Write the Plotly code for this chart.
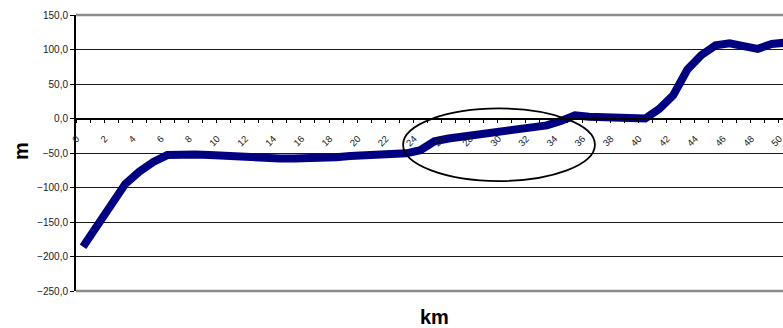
import plotly.graph_objects as go

# Elevation profile along the route (km -> metres)
km = list(range(0, 51))
elevation = [
    -186, -155, -124, -95, -77, -63, -53, -52, -52, -53,
    -54, -56, -58, -58, -58, -58, -58, -56, -56, -54.5,
    -53.5, -52, -51, -50.5, -46, -33, -29, -26, -23.5, -21,
    -18.5, -16, -13, -10, -3.5, 4.5, 2.5, 1.5, 2.5, -0.5,
    0, 14, 34, 71, 92, 106, 109, 105, 101, 108,
    110,
]

x_labels = [str(k) for k in range(0, 51, 2)]
x_label_pos = list(range(0, 51, 2))
y_ticks = [-250, -200, -150, -100, -50, 0, 50, 100, 150]

# Highlighted stretch of the profile
highlight_x = (22.77, 36.42)
highlight_y = (-90.6, 14.5)

Y_RANGE = [-250, 150]
X_RANGE = [-0.5, 49.8]
axis_pos = (0 - Y_RANGE[0]) / (Y_RANGE[1] - Y_RANGE[0])
LABEL_OFFSET = 0.45  # rotated labels sit just left of their category

fig = go.Figure()
fig.add_trace(go.Scatter(
    x=km, y=elevation, mode="lines",
    line=dict(color="#000080", width=8),
    xaxis="x", yaxis="y", showlegend=False, hoverinfo="x+y",
))

font = "Arial, 'Liberation Sans', sans-serif"

fig.update_layout(
    width=783, height=328,
    margin=dict(l=76, r=0, t=15, b=37),
    paper_bgcolor="white", plot_bgcolor="white",
    separators=",.",
    font=dict(family=font, color="#1a1a1a"),
    yaxis=dict(
        range=Y_RANGE, tickvals=y_ticks, tickformat=".1f",
        showgrid=True, gridcolor="#1a1a1a", gridwidth=1,
        zeroline=False, showline=True, linecolor="black", linewidth=2,
        ticks="outside", ticklen=4, tickcolor="black",
        tickfont=dict(size=10, family=font, color="#1a1a1a"),
        domain=[0, 1], fixedrange=True,
    ),
    # axis line crossing at y = 0 with boundary ticks
    xaxis=dict(
        range=X_RANGE, anchor="free", position=axis_pos,
        tickvals=[k - 0.5 for k in range(0, 52)],
        showticklabels=False, ticks="outside", ticklen=4, tickcolor="black",
        showgrid=False, zeroline=False,
        showline=True, linecolor="black", linewidth=1.5,
        fixedrange=True,
    ),
    # rotated category labels
    xaxis2=dict(
        range=X_RANGE, overlaying="x", anchor="free", position=axis_pos,
        side="bottom",
        tickvals=[p - LABEL_OFFSET for p in x_label_pos], ticktext=x_labels,
        ticks="", tickangle=-45, showgrid=False, zeroline=False, showline=False,
        tickfont=dict(size=9.5, family=font, color="#1a1a1a"),
        ticklabelstandoff=12, ticklabeloverflow="allow",
        fixedrange=True,
    ),
)

# dummy trace so the label axis is drawn
fig.add_trace(go.Scatter(x=[None], y=[None], xaxis="x2", yaxis="y",
                         showlegend=False, hoverinfo="skip"))

# plot-area frame lines at top and bottom
for yy in (0, 1):
    fig.add_shape(type="line", xref="paper", yref="paper",
                  x0=0, x1=1, y0=yy, y1=yy,
                  line=dict(color="#8c8c8c", width=2.5))

fig.add_shape(type="circle", xref="x", yref="y",
              x0=highlight_x[0], x1=highlight_x[1],
              y0=highlight_y[0], y1=highlight_y[1],
              line=dict(color="black", width=1.75))

fig.add_annotation(text="<b>m</b>", xref="paper", yref="paper",
                   x=(21 - 76) / 707, y=(291 - 151) / 276,
                   xanchor="center", yanchor="middle",
                   showarrow=False, textangle=-90,
                   font=dict(size=20, family=font, color="black"))
fig.add_annotation(text="<b>km</b>", xref="paper", yref="paper",
                   x=(434.5 - 76) / 707, y=(291 - 317) / 276,
                   xanchor="center", yanchor="middle",
                   showarrow=False,
                   font=dict(size=20, family=font, color="black"))

fig.write_html("out.html")
